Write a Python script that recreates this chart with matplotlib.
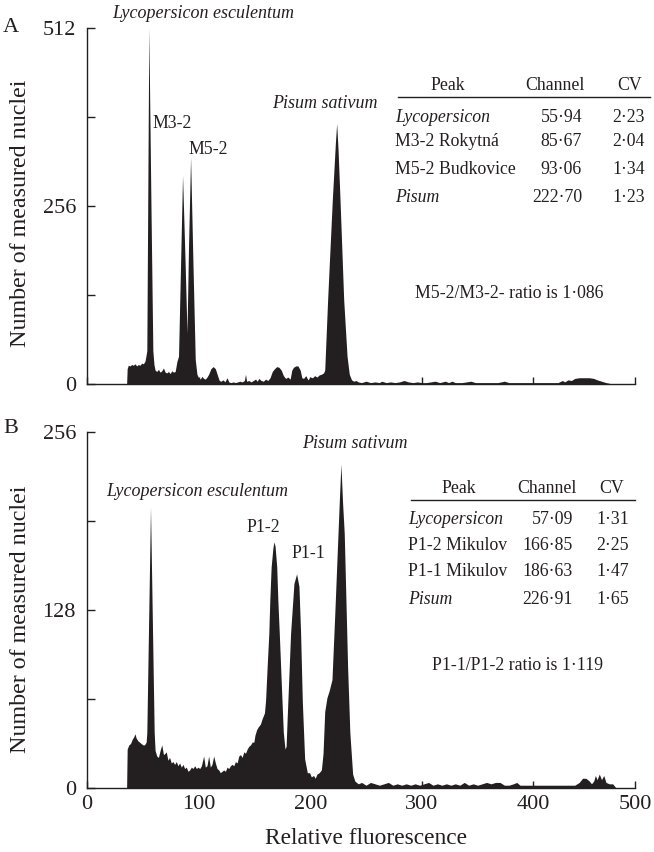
import matplotlib
matplotlib.use("Agg")
import matplotlib.pyplot as plt

plt.rcParams['font.family'] = ['Liberation Serif', 'DejaVu Serif']

INK = '#231f20'

# ---------------- data: panel A ----------------
ch_a = [0, 35.5, 36, 37, 38.5, 40, 41.5, 43, 44.5, 46, 47.5, 49, 50.5, 52, 53, 53.6,
        55.4, 57.2, 59, 60, 61, 62.5, 64, 65.5, 67, 68.5, 70, 71.5, 73, 74.5, 76, 77.5,
        79, 80.5, 82, 83.8, 85.6, 88, 89.6, 91, 92.8, 95, 97, 98.5, 100, 101.5, 103,
        104.5, 106, 107.5, 109, 111, 113, 115, 117, 118.5, 120, 122, 123.5, 125.5, 127,
        129, 131, 133, 135, 137, 139, 141, 142, 143, 145, 147, 149, 151, 152.5, 154,
        156, 158, 160, 162, 164, 166, 168, 170, 172, 174, 176, 178, 180, 182, 183.5,
        185, 187, 189, 191, 192.5, 194, 196, 198, 200, 202, 204, 206, 208, 210, 212,
        213, 215.6, 219.8, 222.5, 223.7, 225, 226.7, 230, 233, 235, 237, 239, 241, 243,
        246, 250, 254, 258, 262, 264, 268, 272, 276, 280, 284, 288, 292, 296, 300, 304,
        308, 312, 316, 321, 324, 327, 330, 336, 340, 344, 348, 355, 362, 368, 374, 378,
        385, 392, 400, 408, 415, 422, 426, 428, 431, 434, 437, 441, 446, 450, 454, 457,
        461, 465, 468, 470, 491]
count_a = [0, 0, 22, 27, 26, 28, 27, 29, 26, 28, 27, 30, 29, 33, 42, 48,
           512, 270, 48, 28, 20, 18, 21, 17, 19, 23, 17, 16, 18, 15, 19, 17,
           18, 32, 40, 169, 300, 169, 73, 200, 326, 169, 35, 14, 9, 7, 11,
           8, 7, 10, 14, 22, 25, 22, 12, 5, 4, 6, 3, 9, 3,
           2, 3, 2, 3, 4, 3, 5, 14, 4, 5, 3, 5, 7, 4, 8,
           5, 4, 7, 5, 9, 18, 22, 25, 24, 20, 12, 8, 10, 7, 20,
           24, 26, 26, 20, 9, 8, 12, 6, 10, 9, 12, 10, 13, 14, 16,
           20, 121, 265, 345, 375, 335, 265, 121, 40, 14, 6, 4, 5, 3,
           2, 4, 2, 3, 2, 4, 2, 3, 2, 3, 5, 3, 2, 3, 2, 2,
           3, 4, 2, 4, 2, 4, 2, 2, 3, 4, 2, 2, 2, 2, 4, 2,
           2, 2, 2, 2, 2, 2, 5, 3, 6, 5, 8, 9, 9, 9, 8, 6,
           4, 2, 1, 0, 0]

# ---------------- data: panel B ----------------
ch_b = [0, 35.5, 36, 37.5, 39, 40.5, 42, 43, 44, 45.5, 47, 48.5, 50, 51.5, 53, 53.6,
        56.9, 60.2, 61, 62.5, 64, 65.5, 67, 68.5, 70, 71, 72.5, 74, 75.5, 77, 78.5, 80,
        81.5, 83, 84.5, 86, 87.5, 89, 90.5, 92, 93.5, 95, 96.5, 98, 99.5, 101, 102.5,
        104.5, 106, 107.5, 109, 110.5, 112, 113.5, 115, 116.5, 118, 119.5, 121, 122.5,
        124, 125.5, 127, 128.5, 130, 131.5, 133, 134.5, 136, 137.5, 139, 140.5, 142,
        143.5, 145, 146.5, 148, 149.5, 150.5, 152, 153.5, 155.4, 157, 159, 160, 161.4,
        162.9, 163.8, 165, 166.5, 167.4, 168.5, 170, 171, 172.3, 173.5, 174.7, 175.9,
        177.4, 178.4, 179.4, 182.4,
        185.4, 187.8, 189.9, 191.4, 192.9, 195, 197.4, 199.4, 201, 203, 204.5, 206,
        208, 210, 211.5, 213, 215, 217, 219.5, 222, 224.5, 226, 227.5, 229, 230.5, 232,
        233.5, 235.5, 238, 240, 243, 246, 250, 254, 258, 262, 266, 270, 274, 278, 282,
        286, 290, 294, 298, 302, 306, 310, 314, 318, 322, 326, 330, 334, 338, 342, 346,
        350, 354, 358, 362, 366, 370, 374, 378, 382, 385, 388, 392, 400, 410, 420, 430,
        437, 441, 444, 447, 450, 452, 454, 455.5, 457, 459, 461, 463, 465, 468, 471,
        474, 491]
count_b = [0, 0, 28, 31, 32, 35, 37, 39, 36, 34, 33, 32, 31, 31, 33, 40,
           202, 40, 27, 23, 22, 27, 31, 24, 25, 26, 20, 22, 18, 19, 17, 19,
           16, 18, 15, 17, 14, 15, 12, 13, 15, 14, 16, 14, 15, 14, 16,
           23, 15, 16, 23, 15, 17, 23, 18, 14, 13, 11, 12, 13,
           12, 15, 14, 16, 17, 16, 19, 18, 23, 24, 22, 26, 25,
           28, 30, 31, 33, 33, 38, 42, 44, 46, 50, 54, 63, 87,
           111, 135, 159, 172, 177, 174, 159, 135, 111, 87, 63, 40,
           28, 30, 51, 111,
           147, 154, 145, 111, 63, 21, 11, 11, 8, 9, 7, 10,
           11, 13, 25, 55, 65, 70, 78, 125, 175, 205, 233, 205, 183, 135,
           87, 40, 10, 5, 3, 4, 2, 4, 3, 2, 3, 4, 2, 3, 2,
           3, 2, 3, 2, 3, 4, 2, 3, 2, 3, 2, 3, 2, 4, 2, 3,
           2, 3, 4, 3, 4, 4, 2, 2, 3, 4, 2, 2, 2, 2, 2, 2,
           2, 4, 7, 7, 5, 3, 5, 9, 6, 10, 6, 9, 4, 3, 3,
           0, 0]

# ---------------- axis ticks ----------------
x_ticks = [0, 100, 200, 300, 400, 491]
x_tick_labels = ['0', '100', '200', '300', '400', '500']
y_ticks_a = [0, 128, 256, 384, 512]
y_tick_labels_a = ['0', '', '256', '', '512']
y_ticks_b = [0, 64, 128, 192, 256]
y_tick_labels_b = ['0', '', '128', '', '256']

# ---------------- tables ----------------
peaks_a = ['Lycopersicon', 'M3-2 Rokytná', 'M5-2 Budkovice', 'Pisum']
channel_a = ['55·94', '85·67', '93·06', '222·70']
cv_a = ['2·23', '2·04', '1·34', '1·23']
italic_a = [True, False, False, True]

peaks_b = ['Lycopersicon', 'P1-2 Mikulov', 'P1-1 Mikulov', 'Pisum']
channel_b = ['57·09', '166·85', '186·63', '226·91']
cv_b = ['1·31', '2·25', '1·47', '1·65']
italic_b = [True, False, False, True]

W, H = 654, 852
fig = plt.figure(figsize=(W / 100, H / 100), dpi=100)


def fx(px):
    return px / W


def fy(py):
    return 1 - py / H


def make_axes(top_px, ch, cnt, ymax, yt, ytl):
    ax = fig.add_axes([fx(87), fy(top_px + 356), 548 / W, 356 / H])
    ax.fill_between(ch, cnt, 0, color=INK, lw=0)
    ax.set_xlim(0, 491)
    ax.set_ylim(0, ymax)
    for s in ('top', 'right'):
        ax.spines[s].set_visible(False)
    for s in ('left', 'bottom'):
        ax.spines[s].set_color(INK)
        ax.spines[s].set_linewidth(1.0)
    ax.set_yticks(yt)
    ax.set_yticklabels(ytl)
    ax.set_xticks(x_ticks)
    ax.tick_params(axis='y', direction='in', length=6, width=1.0, color=INK,
                   labelsize=16, pad=8, labelcolor=INK)
    ax.tick_params(axis='x', direction='in', length=5, width=1.0, color=INK,
                   labelsize=16, pad=5, labelcolor=INK)
    return ax


axA = make_axes(28, ch_a, count_a, 512, y_ticks_a, y_tick_labels_a)
axA.set_xticklabels([''] * len(x_ticks))
axB = make_axes(432, ch_b, count_b, 256, y_ticks_b, y_tick_labels_b)
axB.set_xticklabels(x_tick_labels)

# axis labels
for cy in (213, 619):
    fig.text(fx(21), fy(cy), 'Number of measured nuclei', rotation=90,
             ha='center', va='center', fontsize=17.3, color=INK)
fig.text(fx(366), fy(838), 'Relative fluorescence', ha='center', va='center',
         fontsize=16.8, color=INK)

# panel letters
fig.text(fx(3), fy(28), 'A', ha='left', va='center', fontsize=16, color=INK)
fig.text(fx(3), fy(428), 'B', ha='left', va='center', fontsize=16, color=INK)

# peak labels
lab = dict(fontsize=12.8, color=INK, va='center')
itl = dict(fontsize=13, color=INK, va='center', style='italic', ha='center')
fig.text(fx(203), fy(13), 'Lycopersicon esculentum', **itl)
fig.text(fx(325), fy(104), 'Pisum sativum', **itl)
fig.text(fx(152), fy(124), 'M3-2', ha='left', **lab)
fig.text(fx(188), fy(149), 'M5-2', ha='left', **lab)

fig.text(fx(197), fy(491), 'Lycopersicon esculentum', **itl)
fig.text(fx(355), fy(444), 'Pisum sativum', **itl)
fig.text(fx(263), fy(527), 'P1-2', ha='center', **lab)
fig.text(fx(308), fy(553), 'P1-1', ha='center', **lab)


def table(head_y, line_y, line_x0, line_x1, rows_y, lab_x, hx, chx, cvx,
          peaks, chans, cvs, ital):
    tk = dict(fontsize=12.8, color=INK, va='center')
    fig.text(fx(hx[0]), fy(head_y), 'Peak', ha='center', **tk)
    fig.text(fx(hx[1]), fy(head_y), 'Channel', ha='center', **tk)
    fig.text(fx(hx[2]), fy(head_y), 'CV', ha='center', **tk)
    fig.add_artist(plt.Line2D([fx(line_x0), fx(line_x1)], [fy(line_y), fy(line_y)],
                              color=INK, lw=1.0))
    for y, p, c, v, it in zip(rows_y, peaks, chans, cvs, ital):
        fig.text(fx(lab_x), fy(y), p, ha='left',
                 style='italic' if it else 'normal', **tk)
        fig.text(fx(chx), fy(y), c, ha='right', **tk)
        fig.text(fx(cvx), fy(y), v, ha='right', **tk)


table(85, 97, 398, 650, [118, 142, 170, 197], 395, (448, 555, 630), 582, 645,
      peaks_a, channel_a, cv_a, italic_a)
table(488, 500, 411, 635, [520, 545, 572, 599], 408, (459, 547, 612), 573, 629,
      peaks_b, channel_b, cv_b, italic_b)

fig.text(fx(509), fy(293), 'M5-2/M3-2- ratio is 1·086', ha='center', va='center',
         fontsize=12.8, color=INK)
fig.text(fx(518), fy(665), 'P1-1/P1-2 ratio is 1·119', ha='center', va='center',
         fontsize=12.8, color=INK)

fig.savefig('out.png', dpi=100)
